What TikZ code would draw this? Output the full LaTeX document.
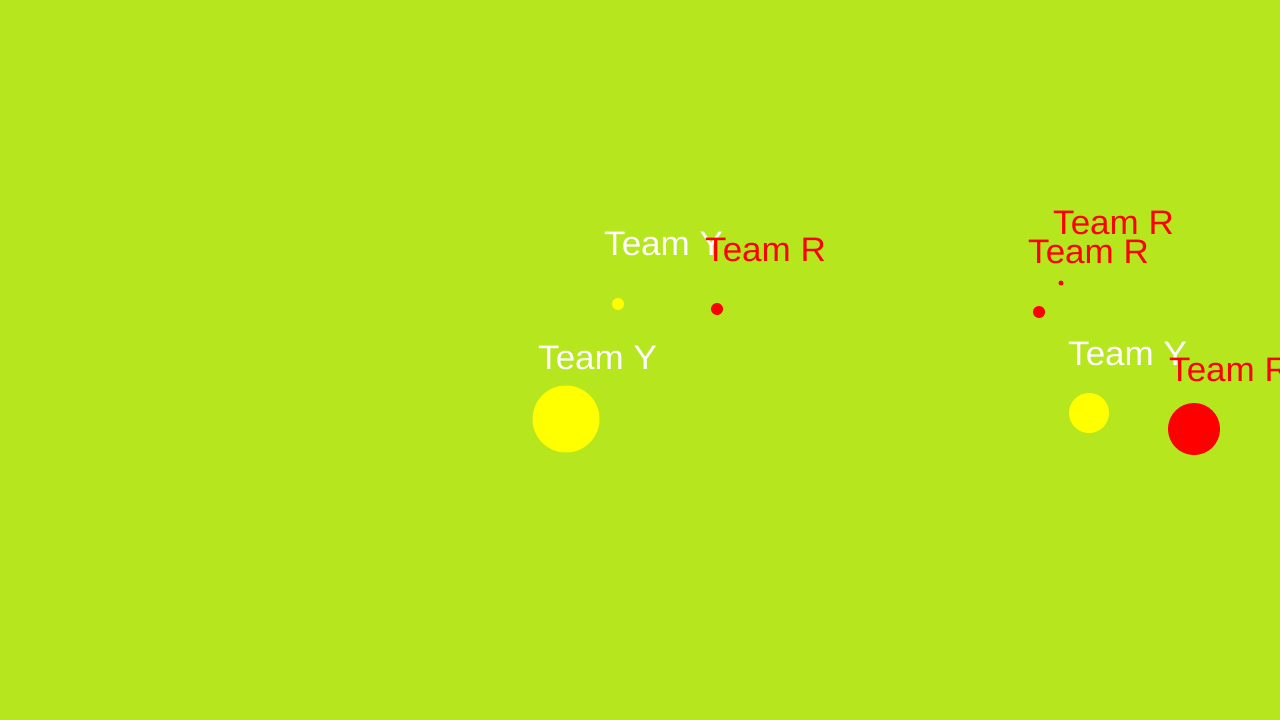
\documentclass[tikz,border=0pt]{standalone}
\usepackage{fontspec}
\setmainfont{Liberation Sans}
\definecolor{bg}{RGB}{182,230,30}
\definecolor{ty}{RGB}{255,255,0}
\definecolor{tr}{RGB}{255,0,0}
\tikzset{
  ball/.style={circle, draw=none, inner sep=0pt, minimum size=#1},
  yball/.style={ball=#1, fill=ty},
  rball/.style={ball=#1, fill=tr},
  lab/.style={anchor=base west, inner sep=0pt, xscale=1.03, font=\fontsize{34}{40}\selectfont},
  ylab/.style={lab, text=white},
  rlab/.style={lab, text=tr},
}
\begin{document}
\begin{tikzpicture}[x=1pt,y=-1pt]
\useasboundingbox (0,0) rectangle (1280,720);
\clip (0,0) rectangle (1280,720);
\fill[bg] (0,0) rectangle (1280,720);
% balls
\node[yball=67pt] (y1) at (566,419) {};
\node[yball=12pt] (y2) at (618,304) {};
\node[rball=12pt] (r1) at (717,309) {};
\node[rball=12pt] (r2) at (1039,312) {};
\node[rball=5pt] (r3) at (1061,283) {};
\node[yball=40pt] (y3) at (1089,413) {};
\node[rball=52pt] (r4) at (1194,429) {};
% labels
\node[ylab] (ly1) at (538,369) {Team Y};
\node[ylab] (ly2) at (604,255) {Team Y};
\node[ylab] (ly3) at (1068,365) {Team Y};
\node[rlab] (lr1) at (705,261) {Team R};
\node[rlab] (lr2) at (1053,234) {Team R};
\node[rlab] (lr3) at (1028,263) {Team R};
\node[rlab] (lr4) at (1169,381) {Team R};
\end{tikzpicture}
\end{document}
